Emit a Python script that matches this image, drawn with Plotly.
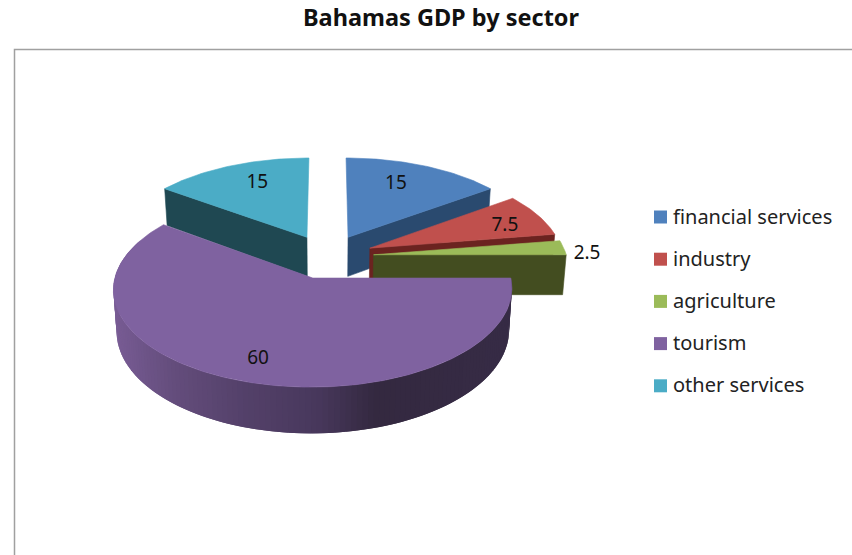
import numpy as np
import plotly.graph_objects as go

# GDP share by sector, in percent, clockwise from twelve o'clock
sectors = ["financial services", "industry", "agriculture", "tourism", "other services"]
shares = [15, 7.5, 2.5, 60, 15]
top_colors = ["#4f81bd", "#c0504d", "#9bbb59", "#7f62a0", "#4bacc6"]
side_colors = ["#2a4a6f", "#6b2320", "#434d20", "#4a3a5e", "#1f4852"]
value_labels = ["15", "7.5", "2.5", "60", "15"]

# label placement inside each slice: bearing in degrees, fraction of radius
label_bearing = [22.6, 69.5, 88.5, 198.3, 337.0]
label_radius = [0.73, 0.784, 1.113, 0.787, 0.743]

# projection of the tilted pie onto the page
CX, CY = 327.5, 256.5
RX, RY = 193.0, 92.0
PERSPECTIVE = 0.11
DEPTH = 40.0
EXPLODE = 0.24
BASE_SHRINK = 0.985
LABEL_DROP = 2.0


def project(u, v, lowered=False):
    w = 1 - PERSPECTIVE * np.asarray(v, dtype=float)
    x = RX * np.asarray(u, dtype=float) / w
    y = RY * np.asarray(v, dtype=float) / w
    if lowered:
        return CX + x * BASE_SHRINK, CY + y + DEPTH / w
    return CX + x, CY + y


def unit(deg):
    rad = np.radians(deg)
    return np.sin(rad), -np.cos(rad)


def polygon(xs, ys, color, edge=0.6):
    return go.Scatter(
        x=list(xs), y=list(ys), mode="lines", fill="toself", fillcolor=color,
        line=dict(color=color, width=edge), hoverinfo="skip", showlegend=False,
    )


# slice bounds from the shares
edges = np.concatenate([[0], np.cumsum(shares)]) * 360.0 / sum(shares)
starts, ends = edges[:-1], edges[1:]
offsets = [tuple(EXPLODE * c for c in unit((a + b) / 2)) for a, b in zip(starts, ends)]

fig = go.Figure()

# rear slices first, the big front slice last
for i in [4, 0, 1, 2, 3]:
    ou, ov = offsets[i]
    arc = np.linspace(starts[i], ends[i], max(8, int(ends[i] - starts[i])))
    au, av = unit(arc)
    au, av = au + ou, av + ov

    if sectors[i] == "tourism":
        # rounded outer wall, shaded from left to right; each band runs
        # under its neighbour so no seams show between them
        stops_x = [115, 175, 245, 320, 377, 510]
        stops_rgb = [(120, 92, 148), (100, 77, 124), (84, 65, 106),
                     (72, 56, 92), (52, 41, 64), (55, 44, 70)]
        step = 1.5
        for a in np.arange(starts[i], 292, step):
            band = np.linspace(a, a + 2 * step, 4)
            su, sv = unit(band)
            su, sv = su + ou, sv + ov
            tx, ty = project(su, sv)
            bx, by = project(su, sv, lowered=True)
            mid = float(tx[:2].mean())
            rgb = [int(np.interp(mid, stops_x, [c[k] for c in stops_rgb])) for k in range(3)]
            fig.add_trace(polygon(
                np.concatenate([tx, bx[::-1], tx[:1]]),
                np.concatenate([ty, by[::-1], ty[:1]]),
                "rgb(%d,%d,%d)" % tuple(rgb), edge=0,
            ))
    else:
        # flat cut face that looks toward the viewer
        cut = ends[i] if sectors[i] != "other services" else starts[i]
        cu, cv = unit(cut)
        pu, pv = np.array([ou, ou + cu]), np.array([ov, ov + cv])
        tx, ty = project(pu, pv)
        bx, by = project(pu, pv, lowered=True)
        fig.add_trace(polygon(
            [tx[0], tx[1], bx[1], bx[0], tx[0]],
            [ty[0], ty[1], by[1], by[0], ty[0]],
            side_colors[i],
        ))

    # top face
    fx, fy = project(np.concatenate([[ou], au, [ou]]), np.concatenate([[ov], av, [ov]]))
    fig.add_trace(polygon(fx, fy, top_colors[i]))

# value labels
for i in range(len(sectors)):
    lu, lv = unit(label_bearing[i])
    lx, ly = project(offsets[i][0] + label_radius[i] * lu, offsets[i][1] + label_radius[i] * lv)
    fig.add_trace(go.Scatter(
        x=[float(lx)], y=[float(ly) + LABEL_DROP], mode="text", text=[value_labels[i]],
        textposition="middle center",
        textfont=dict(family="Noto Sans", size=19, color="#111111"),
        hoverinfo="skip", showlegend=False,
    ))

# key at the right of the pie
KEY_X, KEY_Y, KEY_STEP = 660.5, 217.0, 42.2
KEY_TEXT_GAP = 12.5
for i, name in enumerate(sectors):
    row = KEY_Y + KEY_STEP * i
    fig.add_trace(go.Scatter(
        x=[KEY_X], y=[row], mode="markers", name=name,
        marker=dict(symbol="square", size=13, color=top_colors[i]),
        hoverinfo="skip", showlegend=False,
    ))
    fig.add_trace(go.Scatter(
        x=[KEY_X + KEY_TEXT_GAP], y=[row + 1.5], mode="text", text=[name],
        textposition="middle right",
        textfont=dict(family="Noto Sans", size=20, color="#222222"),
        hoverinfo="skip", showlegend=False,
    ))

fig.update_layout(
    width=852, height=555, margin=dict(l=0, r=0, t=0, b=0),
    paper_bgcolor="white", plot_bgcolor="white", showlegend=False,
    title=dict(
        text="<b>Bahamas GDP by sector</b>", x=441 / 852, xanchor="center",
        y=1 - 18 / 555, yanchor="middle",
        font=dict(family="Noto Sans", size=23.5, color="#111111"),
    ),
    xaxis=dict(range=[0, 852], visible=False, fixedrange=True),
    yaxis=dict(range=[555, 0], visible=False, fixedrange=True),
    shapes=[dict(
        type="path", path="M 14.5 600 L 14.5 49.5 L 900 49.5",
        xref="x", yref="y", line=dict(color="#a0a0a0", width=1.5),
    )],
)

fig.write_html("out.html")
